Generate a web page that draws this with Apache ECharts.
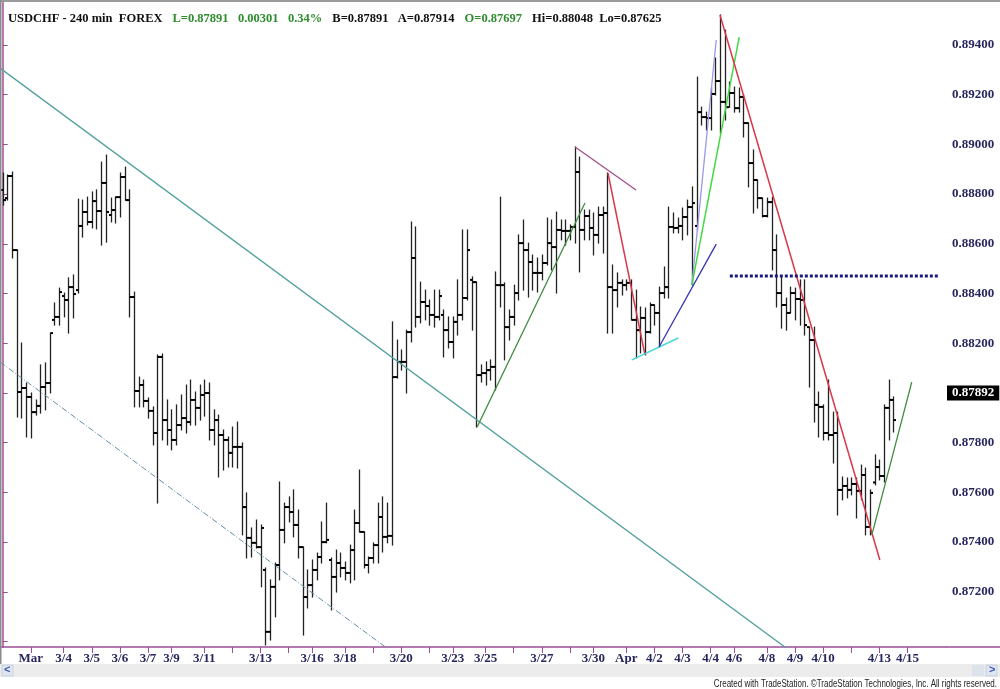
<!DOCTYPE html>
<html><head><meta charset="utf-8">
<script src="https://cdn.jsdelivr.net/npm/echarts@6/dist/echarts.min.js"></script>
<style>html,body{margin:0;padding:0;background:#fff}#c{width:1000px;height:689px}</style>
</head><body><div id="c"></div>
<script>
// ---- OHLC data (USDCHF 240 min), one entry per bar ----
const opens=[.88817,.88784,.88873,.88575,.88004,.88020,.87984,.87923,.87948,.88024,
.88040,.88294,.88306,.88390,.88374,.88426,.88414,.88672,.88728,.88688,
.88772,.88732,.88845,.88716,.88736,.88788,.88869,.88776,.88386,.88008,
.88032,.87968,.87928,.87839,.88145,.87891,.87851,.87811,.87871,.87899,
.87883,.87972,.87940,.87992,.88000,.87851,.87891,.87831,.87811,.87759,
.87783,.87783,.87541,.87417,.87397,.87380,.87288,.87039,.87220,.87308,
.87449,.87541,.87521,.87469,.87380,.87179,.87227,.87288,.87340,.87400,
.87328,.87260,.87316,.87296,.87276,.87368,.87477,.87441,.87308,.87336,
.87388,.87501,.87421,.87425,.88064,.88125,.88125,.88245,.88543,.88306,
.88366,.88350,.88314,.88306,.88314,.88253,.88205,.88286,.88314,.88382,
.88455,.88446,.88072,.88080,.88092,.88105,.88434,.88434,.88265,.88306,
.88402,.88603,.88575,.88527,.88483,.88483,.88523,.88603,.88587,.88656,
.88652,.88652,.88668,.88889,.88656,.88712,.88664,.88636,.88716,.88724,
.88426,.88414,.88443,.88434,.88443,.88294,.88253,.88302,.88245,.88354,
.88322,.88402,.88426,.88668,.88664,.88672,.88708,.88748,.88672,.89130,
.89110,.89106,.89203,.89255,.89171,.89150,.89207,.89146,.89191,.89086,
.88925,.88857,.88784,.88712,.88768,.88575,.88402,.88354,.88322,.88402,
.88378,.88374,.88265,.88213,.87952,.87944,.87839,.87831,.87839,.87610,
.87626,.87610,.87634,.87606,.87670,.87461,.87640,.87702,.87666,.87940,
.87972];
const highs=[.88885,.88877,.88889,.88575,.88201,.88040,.88000,.87972,.88113,.88121,
.88241,.88362,.88422,.88402,.88463,.88475,.88780,.88776,.88788,.88809,
.88817,.88929,.88957,.88784,.88788,.88885,.88909,.88817,.88406,.88064,
.88052,.87980,.87944,.88153,.88157,.87972,.87932,.87952,.87992,.88032,
.88052,.88004,.88032,.88052,.88040,.87932,.87911,.87851,.87823,.87863,
.87883,.87799,.87598,.87457,.87489,.87469,.87296,.87248,.87316,.87642,
.87557,.87582,.87610,.87529,.87380,.87288,.87328,.87356,.87481,.87557,
.87336,.87368,.87356,.87320,.87388,.87529,.87690,.87441,.87340,.87397,
.87557,.87582,.87557,.88286,.88213,.88173,.88253,.88688,.88668,.88446,
.88414,.88374,.88414,.88414,.88334,.88306,.88306,.88455,.88656,.88656,
.88467,.88446,.88113,.88125,.88133,.88487,.88788,.88443,.88334,.88434,
.88636,.88696,.88603,.88555,.88543,.88555,.88704,.88696,.88728,.88696,
.88696,.88676,.88990,.88949,.88736,.88736,.88724,.88748,.88748,.88885,
.88515,.88483,.88455,.88455,.88455,.88414,.88346,.88342,.88362,.88354,
.88426,.88507,.88748,.88724,.88704,.88744,.88776,.88829,.89271,.89150,
.89130,.89227,.89348,.89521,.89460,.89251,.89231,.89227,.89199,.89086,
.88978,.88857,.88784,.88784,.88788,.88636,.88467,.88382,.88426,.88422,
.88455,.88455,.88265,.88265,.88004,.87952,.88052,.87923,.87923,.87662,
.87658,.87658,.87658,.87710,.87698,.87610,.87751,.87730,.87952,.88052,
.87984];
const lows=[.88756,.88776,.88543,.87903,.87899,.87823,.87819,.87911,.87919,.87932,
.88000,.88273,.88273,.88306,.88241,.88302,.88402,.88627,.88676,.88664,
.88660,.88595,.88607,.88688,.88684,.88708,.88776,.88306,.87944,.87944,
.87944,.87899,.87791,.87557,.87811,.87791,.87771,.87791,.87851,.87839,
.87871,.87871,.87891,.87907,.87811,.87791,.87662,.87690,.87702,.87702,
.87698,.87429,.87336,.87340,.87376,.87220,.86986,.87006,.87099,.87248,
.87397,.87481,.87421,.87336,.87026,.87135,.87179,.87248,.87316,.87397,
.87127,.87199,.87260,.87248,.87236,.87248,.87441,.87296,.87276,.87316,
.87316,.87360,.87397,.87388,.88060,.88092,.88000,.88205,.88265,.88282,
.88294,.88273,.88265,.88294,.88145,.88181,.88141,.88233,.88294,.88374,
.88253,.87863,.88044,.88032,.88052,.88012,.88346,.88133,.88213,.88273,
.88374,.88414,.88386,.88414,.88406,.88455,.88515,.88495,.88402,.88616,
.88595,.88616,.88603,.88487,.88616,.88616,.88555,.88603,.88563,.88241,
.88241,.88346,.88394,.88414,.88294,.88141,.88161,.88153,.88241,.88273,
.88185,.88382,.88382,.88644,.88644,.88616,.88636,.88434,.88656,.89078,
.89058,.89058,.89199,.89046,.89098,.89150,.89130,.89130,.89030,.88829,
.88724,.88744,.88708,.88708,.88495,.88346,.88261,.88253,.88322,.88294,
.88273,.88233,.88024,.87883,.87823,.87811,.87811,.87718,.87509,.87570,
.87578,.87590,.87497,.87570,.87429,.87429,.87630,.87650,.87642,.87811,
.87843];
const closes=[.88776,.88873,.88575,.88004,.88020,.87984,.87923,.87948,.88024,.88040,
.88241,.88306,.88406,.88374,.88426,.88398,.88672,.88728,.88688,.88772,
.88732,.88845,.88728,.88736,.88788,.88869,.88776,.88386,.88008,.88032,
.87968,.87928,.87839,.88145,.87891,.87851,.87811,.87871,.87899,.87883,
.87972,.87940,.87992,.88000,.87851,.87891,.87831,.87811,.87759,.87783,
.87783,.87541,.87417,.87397,.87380,.87457,.87039,.87220,.87308,.87449,
.87541,.87521,.87469,.87380,.87179,.87227,.87288,.87340,.87400,.87409,
.87260,.87316,.87296,.87276,.87368,.87477,.87441,.87308,.87336,.87388,
.87501,.87421,.87425,.88064,.88125,.88125,.88245,.88543,.88306,.88366,
.88350,.88314,.88306,.88390,.88253,.88205,.88286,.88314,.88382,.88575,
.88446,.88072,.88080,.88092,.88105,.88434,.88434,.88265,.88306,.88402,
.88603,.88575,.88527,.88483,.88483,.88523,.88603,.88587,.88656,.88652,
.88652,.88668,.88889,.88656,.88712,.88664,.88636,.88716,.88724,.88426,
.88414,.88443,.88434,.88443,.88294,.88253,.88302,.88245,.88354,.88322,
.88402,.88426,.88668,.88664,.88672,.88708,.88748,.88764,.89130,.89110,
.89106,.89203,.89255,.89171,.89150,.89207,.89146,.89191,.89086,.88925,
.88857,.88784,.88712,.88768,.88575,.88402,.88354,.88322,.88402,.88378,
.88374,.88273,.88213,.87952,.87944,.87839,.87831,.87839,.87610,.87626,
.87610,.87634,.87606,.87670,.87461,.87598,.87702,.87666,.87940,.87972,
.87891];

// ---- axis ticks (bar index where each date tick sits) ----
const tickIdx=[6,13,19,25,31,36,43,49,55,61,66,73,79,85,91,96,103,109,115,121,126,133,139,145,151,156,163,169,175,181,187,193];
const tickLabels=['Mar','3/4','3/5','3/6','3/7','3/9','3/11','','3/13','','3/16','3/18','','3/20','','3/23','3/25','','3/27','','3/30','Apr','4/2','4/3','4/4','4/6','4/8','4/9','4/10','','4/13','4/15'];
const yTickValues=[0.870,0.872,0.874,0.876,0.878,0.880,0.882,0.884,0.886,0.888,0.890,0.892,0.894];
const yLabelValues=[0.872,0.874,0.876,0.878,0.880,0.882,0.884,0.886,0.888,0.890,0.892,0.894];
const lastPrice=0.87892;

// ---- drawn trend lines: [barIndex, price] end points ----
const lineTealLong=[[-0.58,0.89307],[167.4,0.86970]];
const lineTealDash=[[-0.58,0.88125],[82.2,0.86970]];
const lineGreenA=[[101.2,0.87863],[124.2,0.88764]];
const linePurple=[[122.1,0.88990],[135.1,0.88817]];
const lineRedShort=[[129.1,0.88885],[137.0,0.88153]];
const lineCyan=[[134.2,0.88133],[144.1,0.88221]];
const lineBlue=[[140.0,0.88185],[152.2,0.88599]];
const lineLavender=[[147.0,0.88434],[152.2,0.89420]];
const lineLime=[[147.0,0.88434],[157.1,0.89432]];
const lineRedLong=[[153.0,0.89521],[187.1,0.87328]];
const lineNavyDot=[[155.1,0.88471],[199.9,0.88471]];
const lineGreenB=[[185.4,0.87429],[193.9,0.88044]];

const ohlc=opens.map((o,i)=>[i,o,highs[i],lows[i],closes[i]]);

const AXIS='#9b4f96', LBL='#27275e', SERIF='"Liberation Serif", "DejaVu Serif", serif';

function trend(data,color,width,type){
  return {type:'line',data:data,symbol:'none',silent:true,clip:true,z:3,
    lineStyle:{color:color,width:width,type:type||'solid'},animation:false};
}

const chart=echarts.init(document.getElementById('c'),null,{renderer:'canvas'});
chart.setOption({
  animation:false,
  backgroundColor:'#ffffff',
  title:{
    left:3,top:5,
    text:'{n|USDCHF - }{k|240 min  FOREX}  {g|L=0.87891   0.00301   0.34%}  {k|B=0.87891   A=0.87914}  {g|O=0.87697}  {k|Hi=0.88048  Lo=0.87625}',
    textStyle:{rich:{
      n:{color:'#111',fontFamily:SERIF,fontSize:12.5},
      k:{color:'#111',fontFamily:SERIF,fontSize:12.5,fontWeight:'bold'},
      g:{color:'#2e8b2e',fontFamily:SERIF,fontSize:12.5,fontWeight:'bold'}
    }}
  },
  grid:{left:0,right:54,top:2,bottom:42,containLabel:false},
  xAxis:{
    type:'value',min:-0.576,max:201.21,
    axisLine:{show:true,onZero:false,lineStyle:{color:AXIS,width:1.5}},
    axisTick:{show:true,customValues:tickIdx,length:6,lineStyle:{color:AXIS,width:1}},
    axisLabel:{customValues:tickIdx,margin:5,
      formatter:function(v){const k=tickIdx.indexOf(Math.round(v));return k>=0?tickLabels[k]:'';},
      fontFamily:SERIF,fontWeight:'bold',fontSize:13,color:LBL},
    splitLine:{show:false}
  },
  yAxis:{
    type:'value',position:'right',min:0.86978,max:0.89573,scale:true,
    axisLine:{show:true,lineStyle:{color:AXIS,width:1.5}},
    axisTick:{show:true,customValues:yTickValues,length:5,lineStyle:{color:AXIS}},
    axisLabel:{customValues:yLabelValues,margin:6,formatter:function(v){return v.toFixed(5);},
      fontFamily:SERIF,fontWeight:'bold',fontSize:13,color:LBL},
    splitLine:{show:false}
  },
  series:[
    {
      type:'custom',data:ohlc,encode:{x:0,y:[1,2,3,4]},silent:true,z:2,clip:true,
      renderItem:function(params,api){
        const x=api.value(0);
        const o=api.coord([x,api.value(1)]);
        const h=api.coord([x,api.value(2)]);
        const l=api.coord([x,api.value(3)]);
        const c=api.coord([x,api.value(4)]);
        const cx=Math.round(o[0])+0.5;
        const st={stroke:'#222',lineWidth:1.3};
        return {type:'group',children:[
          {type:'line',shape:{x1:cx,y1:h[1]-0.5,x2:cx,y2:l[1]+0.5},style:st},
          {type:'line',shape:{x1:cx-2.5,y1:o[1],x2:cx,y2:o[1]},style:{stroke:'#000',lineWidth:2}},
          {type:'line',shape:{x1:cx,y1:c[1],x2:cx+2.5,y2:c[1]},style:{stroke:'#000',lineWidth:2}}
        ]};
      },
      markLine:{
        silent:true,symbol:'none',animation:false,
        lineStyle:{color:'rgba(0,0,0,0)',width:0},
        label:{show:true,position:'end',distance:1,formatter:lastPrice.toFixed(5),
          color:'#ffffff',backgroundColor:'#000000',padding:[1,5,1,5],
          fontFamily:SERIF,fontWeight:'bold',fontSize:13},
        data:[{yAxis:lastPrice}]
      }
    },
    trend(lineTealLong,'#52a09c',1.3),
    trend(lineTealDash,'#5f8fa0',1,[6,2,1,2]),
    trend(lineGreenA,'#3f8c3f',1.3),
    trend(linePurple,'#a0508a',1.3),
    trend(lineRedShort,'#d8384a',1.5),
    trend(lineCyan,'#48d8d8',1.5),
    trend(lineBlue,'#3434b4',1.3),
    trend(lineLavender,'#9a9ae6',1.3),
    trend(lineLime,'#44d844',1.5),
    trend(lineRedLong,'#d8384a',1.5),
    trend(lineNavyDot,'#1a1a7a',3,[3,2]),
    trend(lineGreenB,'#3f8c3f',1.3)
  ],
  graphic:[
    {type:'rect',z:100,shape:{x:0,y:0,width:1000,height:2},style:{fill:'#9a9a9a'}},
    {type:'rect',z:100,shape:{x:0,y:0,width:1.5,height:664},style:{fill:'#8a8a8a'}},
    {type:'line',z:100,shape:{x1:946,y1:647,x2:1000,y2:647},style:{stroke:AXIS,lineWidth:1.5}},
    {type:'rect',z:100,shape:{x:0,y:664,width:1000,height:13},style:{fill:'#ececec'}},
    {type:'rect',z:101,shape:{x:2,y:665,width:11,height:11},style:{fill:'#dfe6f2',stroke:'#c8d0e0'}},
    {type:'text',z:102,x:4,y:664,style:{text:'<',fill:'#3a5aa8',font:'bold 11px "Liberation Sans", sans-serif'}},
    {type:'rect',z:101,shape:{x:972,y:665,width:12,height:11},style:{fill:'#dde3ea'}},
    {type:'rect',z:101,shape:{x:986,y:665,width:11,height:11},style:{fill:'#dfe6f2',stroke:'#c8d0e0'}},
    {type:'text',z:102,x:989,y:664,style:{text:'>',fill:'#3a5aa8',font:'bold 11px "Liberation Sans", sans-serif'}},
    {type:'text',z:102,x:997,y:679,scaleX:0.8,originX:0,originY:0,
      style:{text:'Created with TradeStation. \u00a9TradeStation Technologies, Inc. All rights reserved.',
        fill:'#222',align:'right',font:'10px "Liberation Sans", Arial, sans-serif'}}
  ]
});
</script></body></html>
